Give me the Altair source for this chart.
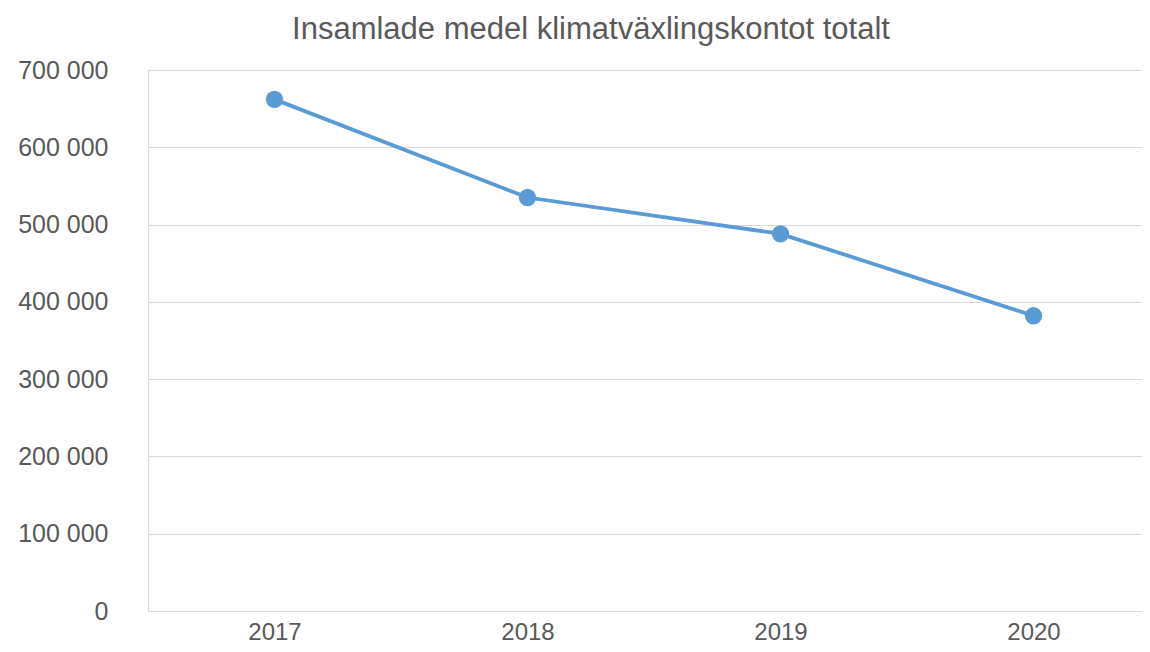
import altair as alt
import pandas as pd

years = [2017, 2018, 2019, 2020]
values = [662000, 535000, 488000, 382000]
y_ticks = [0, 100000, 200000, 300000, 400000, 500000, 600000, 700000]

df = pd.DataFrame({"year": years, "value": values})

LINE = "#5B9BD5"
TXT = "#595959"
GRID = "#D9D9D9"
FONT = "Liberation Sans"
W = 994
STEP = 253

x = alt.X(
    "year:Q",
    scale=alt.Scale(domain=[2016.5, 2016.5 + W / STEP], nice=False, zero=False),
    axis=alt.Axis(
        values=years, format="d", title=None, grid=False, ticks=False, tickSize=0,
        labelPadding=28, labelBaseline="alphabetic", labelFontSize=24, labelColor=TXT,
        labelFont=FONT, domainColor=GRID, domainWidth=1,
    ),
)
y = alt.Y(
    "value:Q",
    scale=alt.Scale(domain=[0, 700000], nice=False),
    axis=alt.Axis(
        values=y_ticks, title=None, ticks=False, tickSize=0, labelPadding=40,
        labelFontSize=25, labelColor=TXT, labelFont=FONT,
        gridColor=GRID, gridWidth=1, domainColor=GRID, domainWidth=1,
        labelExpr="replace(format(datum.value, ',d'), /,/g, ' ')",
    ),
)

line = alt.Chart(df).mark_line(color=LINE, strokeWidth=3.8).encode(x=x, y=y)
pts = alt.Chart(df).mark_point(filled=True, color=LINE, size=300, opacity=1).encode(x=x, y=y)

chart = (
    (line + pts)
    .properties(
        width=W,
        height=541,
        title=alt.Title(
            "Insamlade medel klimatväxlingskontot totalt",
            anchor="middle", dx=-54, fontSize=31, font=FONT,
            fontWeight="normal", color=TXT, offset=12,
        ),
        autosize=alt.AutoSizeParams(type="none"),
        padding={"left": 140, "top": 62, "right": 0, "bottom": 33},
    )
    .configure_view(stroke=None)
    .configure(background="white")
)

chart.save("out.html", embed_options={"renderer": "svg", "actions": False})
